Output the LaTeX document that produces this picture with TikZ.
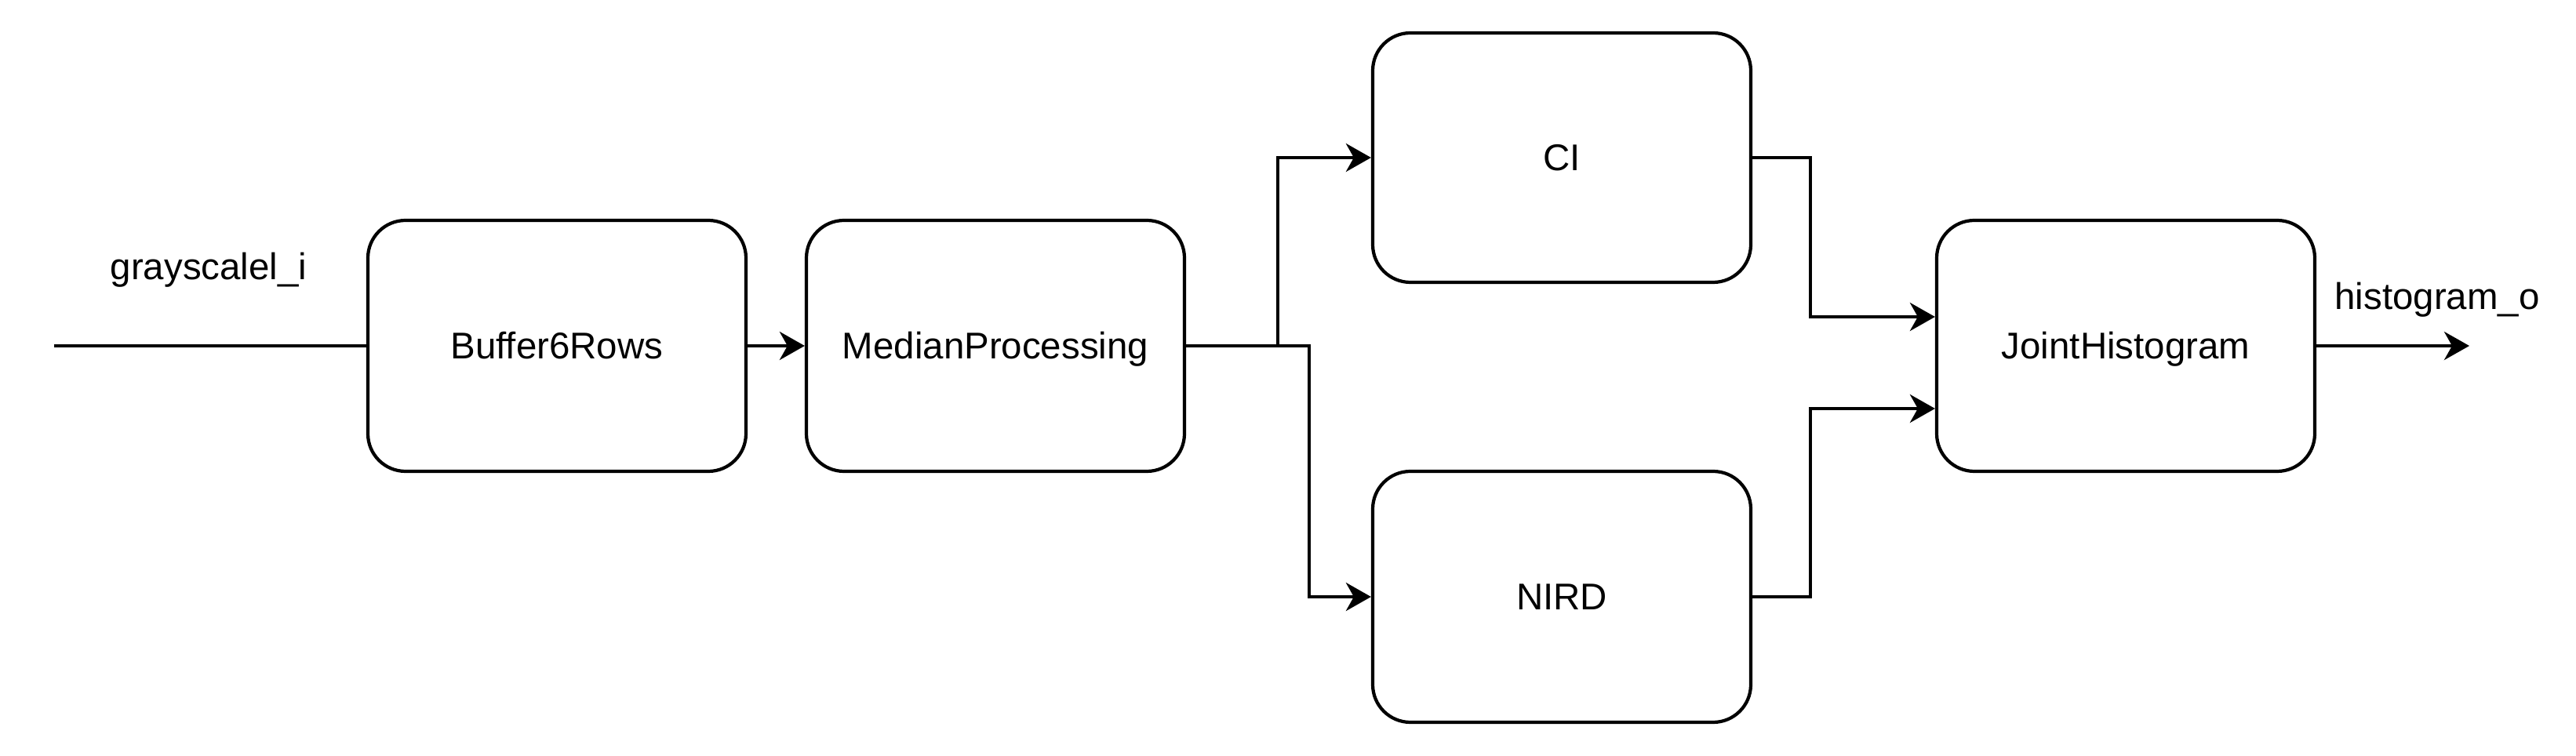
\documentclass[tikz,border=0pt]{standalone}
\usepackage{fontspec}
\setmainfont{Liberation Sans}
\usetikzlibrary{arrows.meta}
\begin{document}
\begin{tikzpicture}[
  every node/.style={font=\fontsize{13.5pt}{16pt}\selectfont},
  blk/.style={draw, line width=1.2pt, rounded corners=0.48cm, minimum width=4.82cm, minimum height=3.2cm, inner sep=0pt, text height=0.34cm, text depth=0cm},
  conn/.style={line width=1.2pt},
  arr/.style={line width=1.2pt, -{Stealth[length=0.32cm,width=0.36cm,inset=0.1cm]}},
  lbl/.style={anchor=base, inner sep=0pt}
]
\useasboundingbox (0,0) rectangle (32.84,9.64);
\node[blk] (buf) at (7.10,5.23) {Buffer6Rows};
\node[blk] (med) at (12.69,5.23) {MedianProcessing};
\node[blk, minimum height=3.18cm] (ci) at (19.91,7.63) {CI};
\node[blk] (nird) at (19.91,2.03) {NIRD};
\node[blk] (joint) at (27.10,5.23) {JointHistogram};
\node[lbl] (lin) at (2.66,6.07) {grayscalel\_i};
\node[lbl] (lout) at (31.07,5.69) {histogram\_o};
\coordinate (in) at (0.69,5.23);
\coordinate (out) at (31.48,5.23);
\coordinate (b1) at (16.29,5.23);
\coordinate (b2) at (16.69,5.23);
\coordinate (c3) at (23.08,5.60);
\coordinate (c4) at (23.08,4.43);
\draw[conn] (in) -- (buf.west);
\draw[arr] (buf.east) -- (med.west);
\draw[arr] (med.east) -- (b1) |- (ci.west);
\draw[arr] (med.east) -- (b2) |- (nird.west);
\draw[arr] (ci.east) -| (c3) -- (c3 -| joint.west);
\draw[arr] (nird.east) -| (c4) -- (c4 -| joint.west);
\draw[arr] (joint.east) -- (out);
\end{tikzpicture}
\end{document}
